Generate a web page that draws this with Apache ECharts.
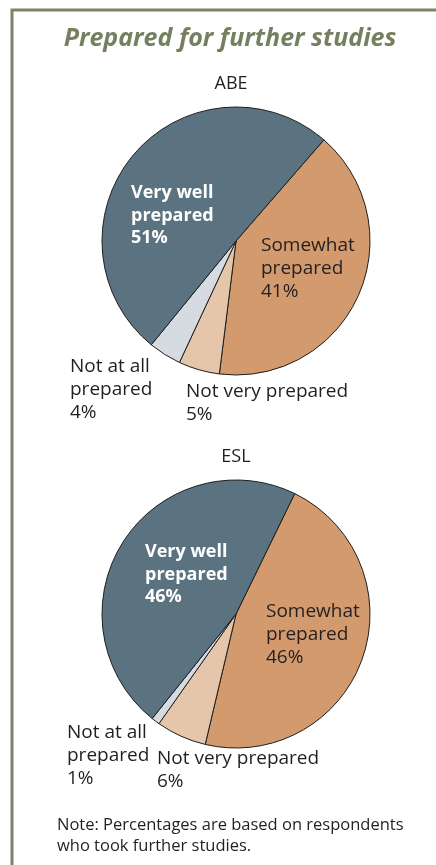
<!DOCTYPE html>
<html>
<head>
<meta charset="utf-8">
<script src="https://cdn.jsdelivr.net/npm/echarts@6/dist/echarts.min.js"></script>
<style>
html,body{margin:0;padding:0;background:#fff;}
#chart{width:436px;height:865px;}
</style>
</head>
<body>
<div id="chart"></div>
<script>
// ---- data ----
var categories = ['Somewhat\nprepared', 'Not very prepared', 'Not at all\nprepared', 'Very well\nprepared'];
var abeValues = [41, 5, 4, 51];
var eslValues = [46, 6, 1, 46];
var groupNames = ['ABE', 'ESL'];
var titleText = 'Prepared for further studies';
var noteText = 'Note: Percentages are based on respondents\nwho took further studies.';

// ---- styles / layout ----
var sliceColors = ['#d39a6e', '#e6c6aa', '#d6dbe2', '#5b7380'];
var textDark = '#231f20';
var FONT = '"Open Sans", "Noto Sans", sans-serif';
var labelPos = {
  abe: [[261, 234], [186, 380], [70, 355], [131, 182]],
  esl: [[266, 600], [157, 747], [67, 721], [145, 541]]
};

function makeData(vals) {
  return vals.map(function (v, i) {
    var isVW = i === 3;
    return {
      name: categories[i],
      value: v,
      itemStyle: { color: sliceColors[i] },
      label: {
        color: isVW ? '#ffffff' : textDark,
        fontWeight: isVW ? 'bold' : 'normal',
        fontSize: isVW ? 18 : 19,
        lineHeight: isVW ? 22.5 : 23
      }
    };
  });
}

function makeSeries(vals, center, startAngle, key) {
  return {
    type: 'pie',
    radius: 134,
    center: center,
    startAngle: startAngle,
    clockwise: true,
    silent: true,
    animation: false,
    itemStyle: { borderColor: '#1e1e1e', borderWidth: 1 },
    label: {
      show: true,
      position: 'inside',
      formatter: '{b}\n{c}%',
      fontFamily: FONT,
      align: 'left'
    },
    labelLine: { show: false },
    labelLayout: function (p) {
      var pos = labelPos[key][p.dataIndex];
      return { x: pos[0], y: pos[1], align: 'left', verticalAlign: 'top' };
    },
    data: makeData(vals)
  };
}

var chart = echarts.init(document.getElementById('chart'), null, { renderer: 'canvas' });
chart.setOption({
  backgroundColor: '#ffffff',
  animation: false,
  graphic: [
    { type: 'rect', shape: { x: 12, y: 10, width: 600, height: 1000 },
      style: { fill: 'none', stroke: '#7b8466', lineWidth: 3 }, silent: true },
    { type: 'text', x: 230, y: 26,
      style: { text: titleText, align: 'center', verticalAlign: 'top',
        font: 'italic bold 25px ' + FONT, fill: '#768060' } },
    { type: 'text', x: 231, y: 75,
      style: { text: groupNames[0], align: 'center', verticalAlign: 'top',
        font: '18px ' + FONT, fill: textDark } },
    { type: 'text', x: 236, y: 448,
      style: { text: groupNames[1], align: 'center', verticalAlign: 'top',
        font: '18px ' + FONT, fill: textDark } },
    { type: 'text', x: 57, y: 815,
      style: { text: noteText, font: '16.5px ' + FONT, fill: textDark, lineHeight: 21 } }
  ],
  series: [
    makeSeries(abeValues, [236, 241], 49, 'abe'),
    makeSeries(eslValues, [236, 614], 64, 'esl')
  ]
});
</script>
</body>
</html>
